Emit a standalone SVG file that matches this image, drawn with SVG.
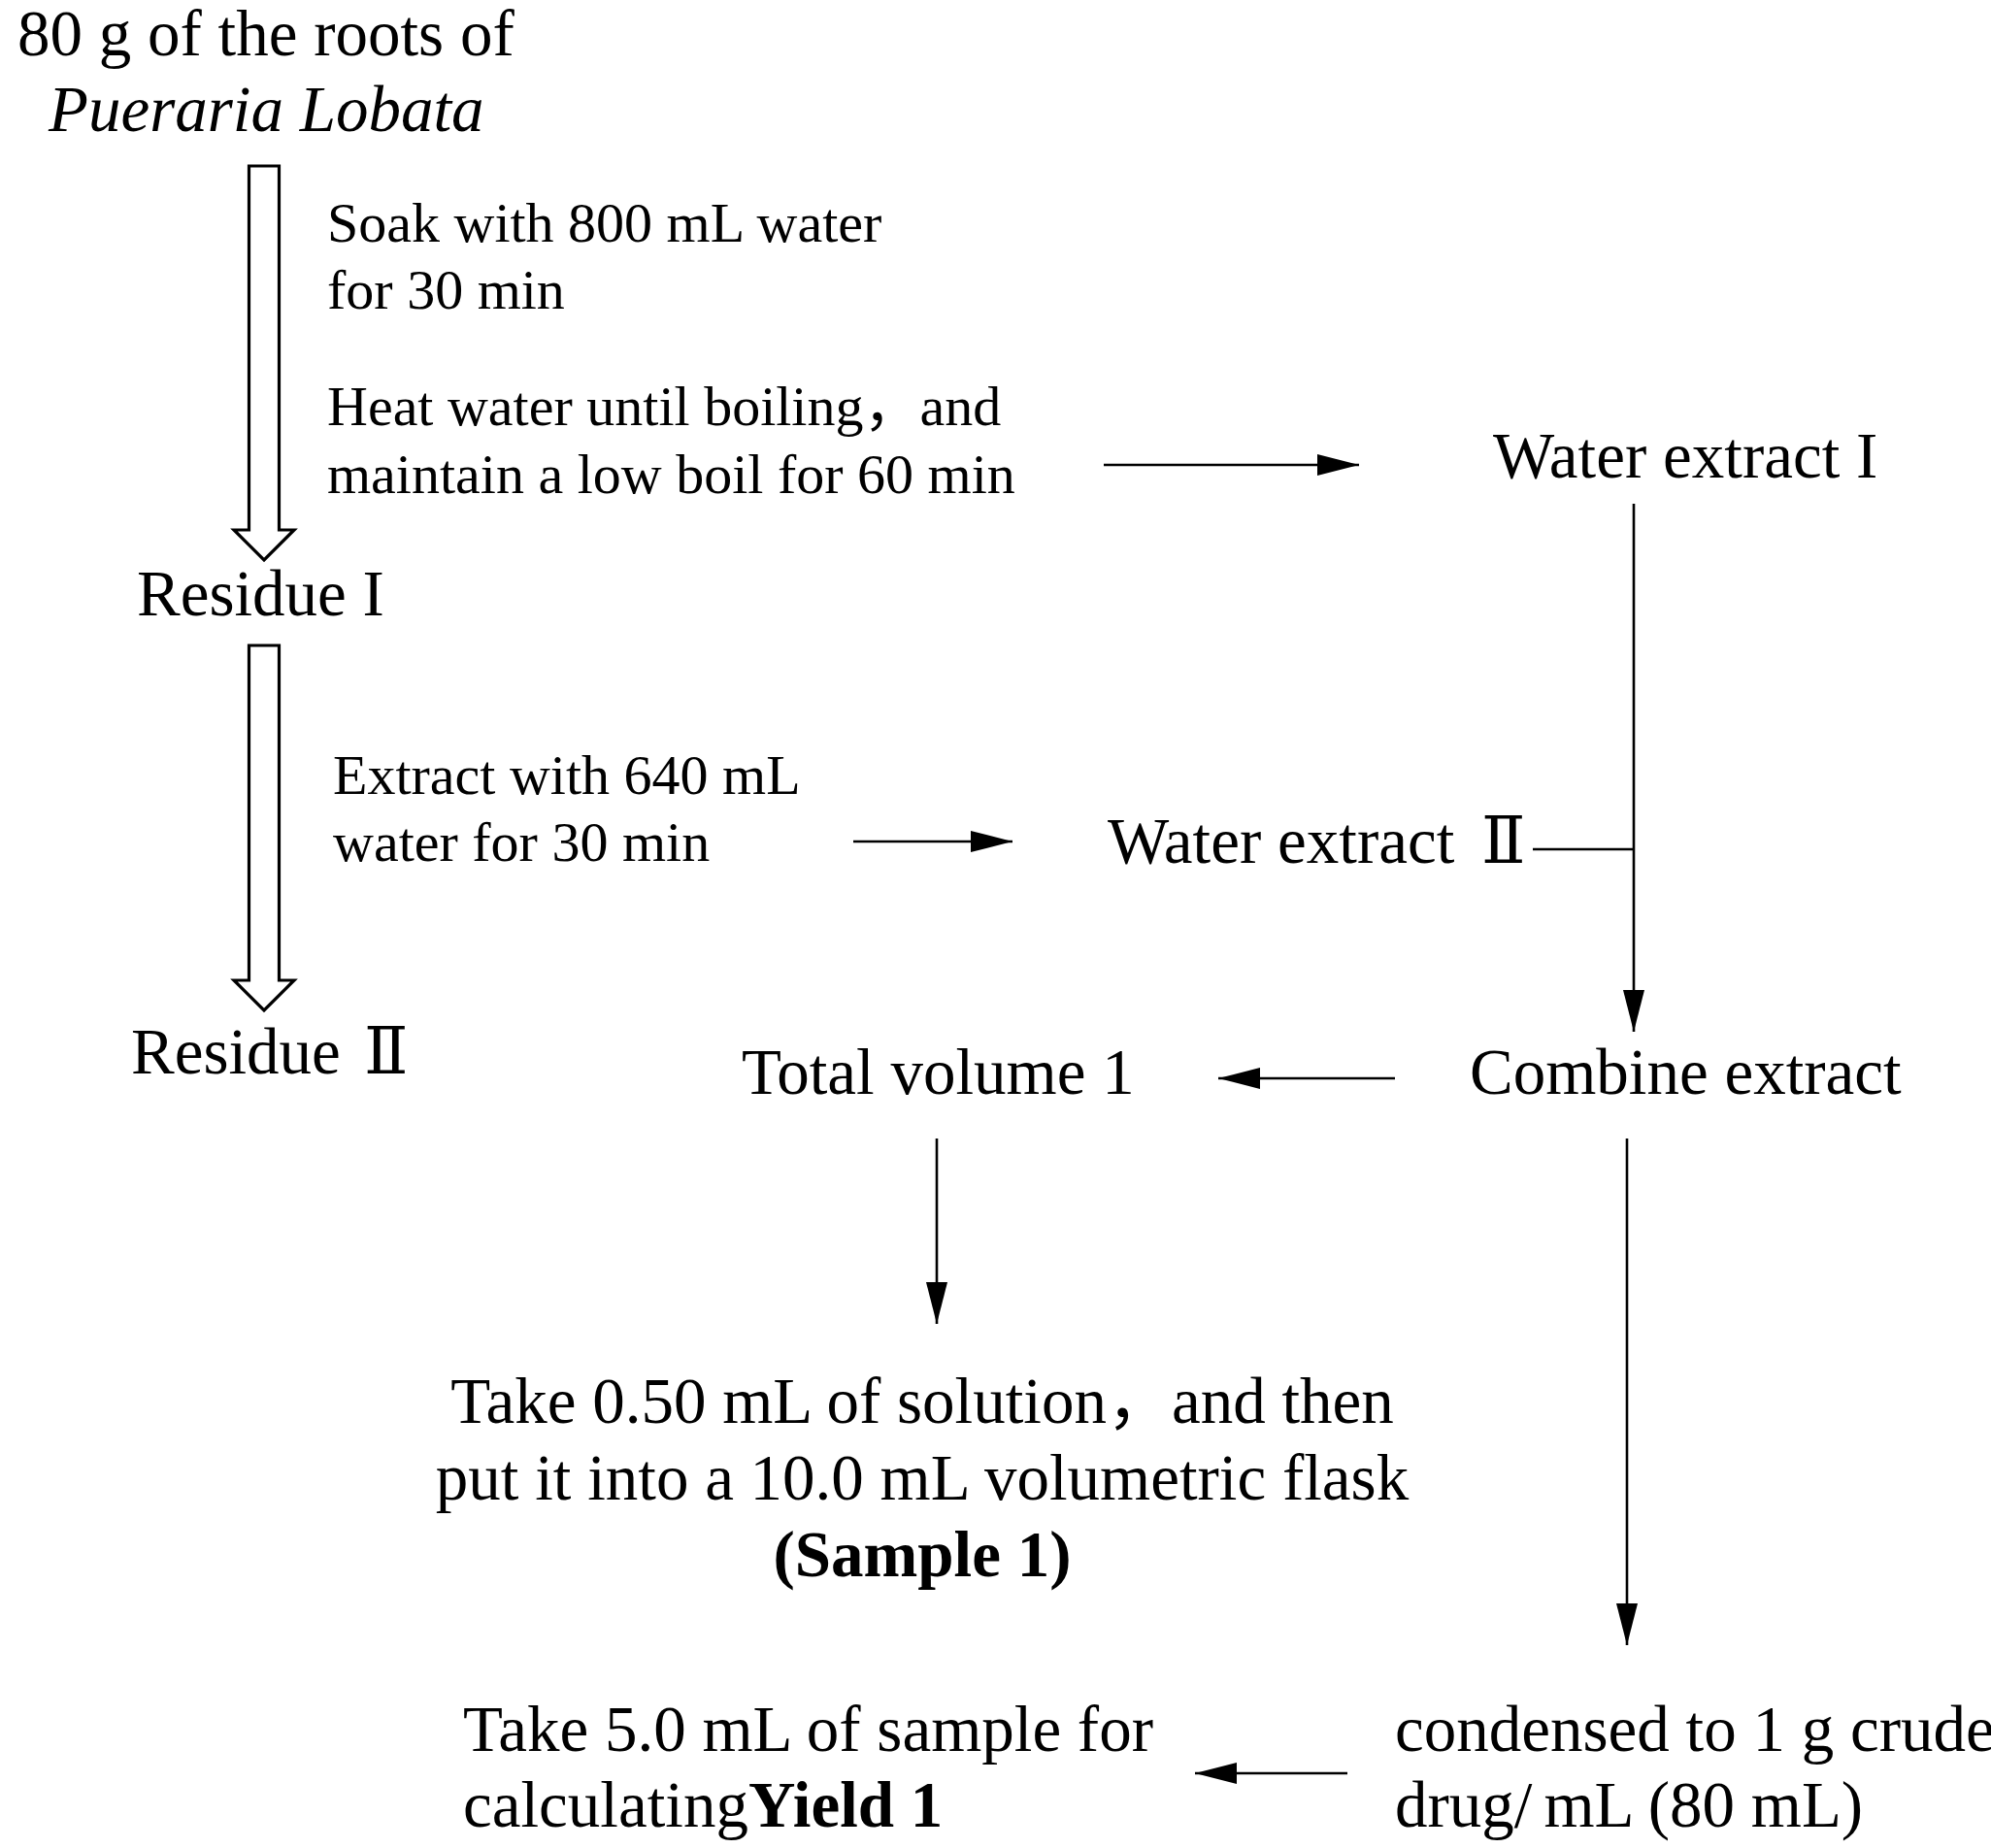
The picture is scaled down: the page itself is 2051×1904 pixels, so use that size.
<svg xmlns="http://www.w3.org/2000/svg" width="2051" height="1904" viewBox="0 0 2051 1904">
<defs>
<style>
text{font-family:"Liberation Serif","Times New Roman","Noto Sans CJK SC",serif;fill:#000}
.big{font-size:67px}
.sm{font-size:58px}
.it{font-style:italic}
.b{font-weight:bold}
.cjk{font-family:"Noto Sans CJK SC",sans-serif}
.rn{font-family:"DejaVu Serif","Noto Sans CJK SC",serif}
.line{stroke:#000;stroke-width:2.6;fill:none}
.hollow{stroke:#000;stroke-width:3.2;fill:#fff;stroke-linejoin:miter}
</style>
<marker id="ah" markerUnits="userSpaceOnUse" markerWidth="44" markerHeight="24" refX="43" refY="11" orient="auto" viewBox="0 0 44 22">
<path d="M0,0 L43,11 L0,22 z" fill="#000"/>
</marker>
</defs>
<rect width="2051" height="1904" fill="#fff"/>

<g id="start">
<text class="big" x="18" y="57">80 g of the roots of</text>
<text class="big it" x="50" y="135">Pueraria Lobata</text>
</g>
<g id="step1">
<text class="sm" x="337" y="249">Soak with 800 mL water</text>
<text class="sm" x="337" y="318">for 30 min</text>
<text class="sm" x="337" y="438">Heat water until boiling<tspan class="cjk">，</tspan>and</text>
<text class="sm" x="337" y="508">maintain a low boil for 60 min</text>
</g>
<g id="waterextract1"><text class="big" x="1538" y="492">Water extract I</text></g>
<g id="residue1"><text class="big" x="141" y="634">Residue I</text></g>
<g id="step2">
<text class="sm" x="343" y="818">Extract with 640 mL</text>
<text class="sm" x="343" y="887">water for 30 min</text>
</g>
<g id="waterextract2"><text class="big" x="1141" y="889">Water extract <tspan class="rn" x="1526">Ⅱ</tspan></text></g>
<g id="residue2"><text class="big" x="135" y="1106">Residue <tspan class="rn" x="375">Ⅱ</tspan></text></g>
<g id="totalvolume"><text class="big" x="764" y="1127">Total volume 1</text></g>
<g id="combine"><text class="big" x="1514" y="1127">Combine extract</text></g>
<g id="sample1">
<text class="big" x="950" y="1466" text-anchor="middle">Take 0.50 mL of solution<tspan class="cjk">，</tspan>and then</text>
<text class="big" x="950" y="1545" text-anchor="middle">put it into a 10.0 mL volumetric flask</text>
<text class="big b" x="950" y="1624" text-anchor="middle">(Sample 1)</text>
</g>
<g id="yield1">
<text class="big" x="477" y="1804">Take 5.0 mL of sample for</text>
<text class="big" x="477" y="1882">calculating<tspan class="b">Yield 1</tspan></text>
</g>
<g id="condensed">
<text class="big" x="1437" y="1804">condensed to 1 g crude</text>
<text class="big" x="1437" y="1882">drug/<tspan dx="12">mL (80 mL)</tspan></text>
</g>

<g id="connectors">
<path class="hollow" d="M256.5,171 L287.5,171 L287.5,546 L303,546 L272,577 L241,546 L256.5,546 Z"/>
<path class="hollow" d="M256.5,665 L287.5,665 L287.5,1010 L303,1010 L272,1041 L241,1010 L256.5,1010 Z"/>
<path class="line" d="M1137,479 L1400,479" marker-end="url(#ah)"/>
<path class="line" d="M1683,519 L1683,1063" marker-end="url(#ah)"/>
<path class="line" d="M1579,875 L1683,875"/>
<path class="line" d="M879,867 L1043,867" marker-end="url(#ah)"/>
<path class="line" d="M1437,1111 L1255,1111" marker-end="url(#ah)"/>
<path class="line" d="M965,1173 L965,1364" marker-end="url(#ah)"/>
<path class="line" d="M1676,1173 L1676,1695" marker-end="url(#ah)"/>
<path class="line" d="M1388,1827 L1231,1827" marker-end="url(#ah)"/>
</g>
</svg>
